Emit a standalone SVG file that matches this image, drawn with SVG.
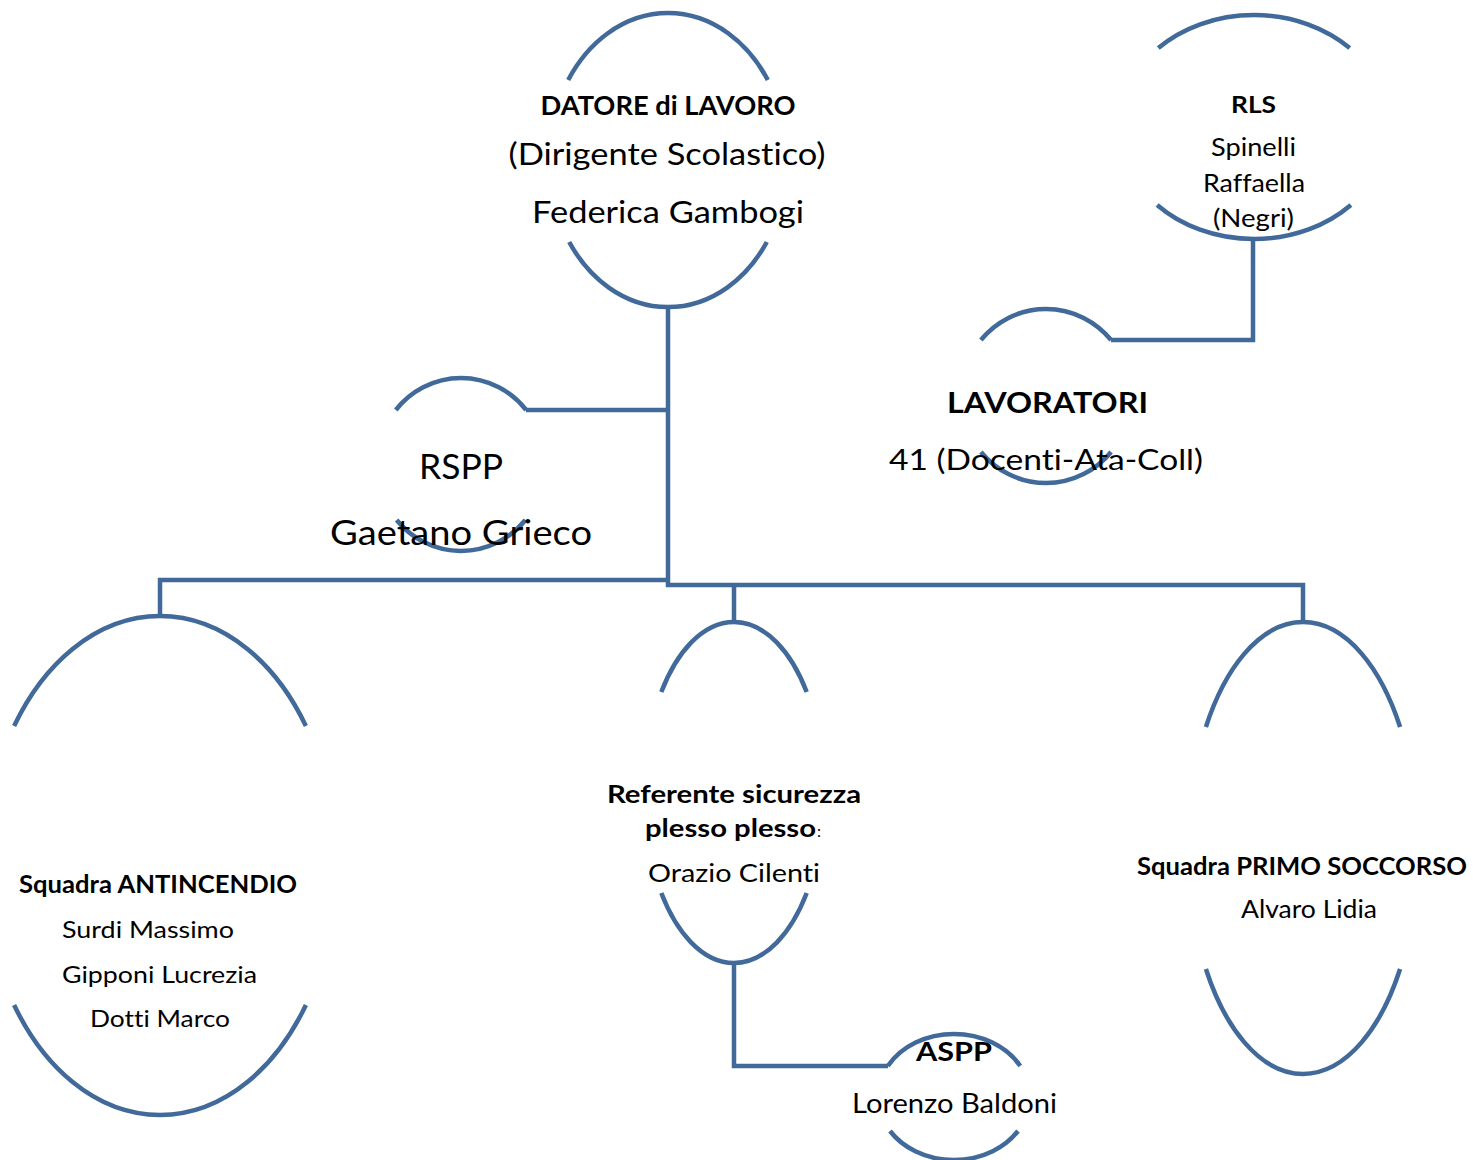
<svg xmlns="http://www.w3.org/2000/svg" width="1473" height="1160" viewBox="0 0 1473 1160">
<style>
.arc{fill:none;stroke:#41699A;stroke-width:4.5;stroke-linecap:butt}
.conn{fill:none;stroke:#41699A;stroke-width:4.5;stroke-linejoin:miter;stroke-linecap:butt}
text{font-family:Lato,"Open Sans","Liberation Sans",sans-serif;fill:#000;font-variant-ligatures:none;font-feature-settings:"liga" 0,"clig" 0}
.b{font-weight:bold}
.m{text-anchor:middle}
</style>
<rect width="1473" height="1160" fill="#fff"/>
<g id="connectors">
<path class="conn" d="M668 307 V587"/>
<path class="conn" d="M526 410 H668"/>
<path class="conn" d="M668 580 H160 V616"/>
<path class="conn" d="M666 585 H1303 V622"/>
<path class="conn" d="M734 585 V622"/>
<path class="conn" d="M1111 340 H1253 V239"/>
<path class="conn" d="M734 963 V1066 H888"/>
</g>
<g id="datore">
<path class="arc" d="M568.2 80 A119 147 0 0 1 767.8 80"/>
<path class="arc" d="M569.2 242 A119 147 0 0 0 766.8 242"/>
<text class="b m" x="668" y="115" font-size="26" textLength="255" lengthAdjust="spacingAndGlyphs">DATORE di LAVORO</text>
<text class="m" x="667" y="165" font-size="31" textLength="317" lengthAdjust="spacingAndGlyphs">(Dirigente Scolastico)</text>
<text class="m" x="668" y="223" font-size="31" textLength="272" lengthAdjust="spacingAndGlyphs">Federica Gambogi</text>
</g>
<g id="rls">
<path class="arc" d="M1158.3 48 A135 112 0 0 1 1349.7 48"/>
<path class="arc" d="M1157.1 205 A135 112 0 0 0 1350.9 205"/>
<text class="b m" x="1253.5" y="113" font-size="23" textLength="45" lengthAdjust="spacingAndGlyphs">RLS</text>
<text class="m" x="1253.5" y="156" font-size="24.5" textLength="85" lengthAdjust="spacingAndGlyphs">Spinelli</text>
<text class="m" x="1254" y="192" font-size="24.5" textLength="102" lengthAdjust="spacingAndGlyphs">Raffaella</text>
<text class="m" x="1253.5" y="227" font-size="24.5" textLength="81" lengthAdjust="spacingAndGlyphs">(Negri)</text>
</g>
<g id="lavoratori">
<path class="arc" d="M980.9 340 A85 87 0 0 1 1111.1 340"/>
<path class="arc" d="M980.9 452 A85 87 0 0 0 1111.1 452"/>
<text class="b m" x="1047.5" y="413" font-size="29" textLength="201" lengthAdjust="spacingAndGlyphs">LAVORATORI</text>
<text class="m" x="1046" y="470" font-size="29" textLength="314" lengthAdjust="spacingAndGlyphs">41 (Docenti-Ata-Coll)</text>
</g>
<g id="rspp">
<path class="arc" d="M395.8 410 A84 86.5 0 0 1 526.2 410"/>
<path class="arc" d="M396.6 520 A84 86.5 0 0 0 525.4 520"/>
<text class="m" x="461" y="479" font-size="35" textLength="84" lengthAdjust="spacingAndGlyphs">RSPP</text>
<text class="m" x="461" y="545" font-size="35" textLength="262" lengthAdjust="spacingAndGlyphs">Gaetano Grieco</text>
</g>
<g id="antincendio">
<path class="arc" d="M14.1 726 A176 249.5 0 0 1 305.9 726"/>
<path class="arc" d="M14.1 1005 A176 249.5 0 0 0 305.9 1005"/>
<text class="b" x="19" y="893" font-size="24" textLength="278" lengthAdjust="spacingAndGlyphs">Squadra ANTINCENDIO</text>
<text x="62" y="938" font-size="24" textLength="172" lengthAdjust="spacingAndGlyphs">Surdi Massimo</text>
<text x="62" y="983" font-size="24" textLength="195" lengthAdjust="spacingAndGlyphs">Gipponi Lucrezia</text>
<text x="90" y="1027" font-size="24" textLength="140" lengthAdjust="spacingAndGlyphs">Dotti Marco</text>
</g>
<g id="referente">
<path class="arc" d="M661.3 692 A90 170.5 0 0 1 806.7 692"/>
<path class="arc" d="M661.3 893 A90 170.5 0 0 0 806.7 893"/>
<text class="b m" x="734" y="803" font-size="25" textLength="254" lengthAdjust="spacingAndGlyphs">Referente sicurezza</text>
<text class="b" x="645" y="837" font-size="25" textLength="171" lengthAdjust="spacingAndGlyphs">plesso plesso</text>
<text x="817" y="837" font-size="16">:</text>
<text class="m" x="734" y="882" font-size="24.5" textLength="172" lengthAdjust="spacingAndGlyphs">Orazio Cilenti</text>
</g>
<g id="primo-soccorso">
<path class="arc" d="M1205.9 727 A115 226 0 0 1 1400.1 727"/>
<path class="arc" d="M1205.9 969 A115 226 0 0 0 1400.1 969"/>
<text class="b" x="1137" y="875" font-size="24" textLength="330" lengthAdjust="spacingAndGlyphs">Squadra PRIMO SOCCORSO</text>
<text x="1241" y="918" font-size="24.5" textLength="136" lengthAdjust="spacingAndGlyphs">Alvaro Lidia</text>
</g>
<g id="aspp">
<path class="arc" d="M887.8 1066 A76 63 0 0 1 1020.2 1066"/>
<path class="arc" d="M890 1131 A76 63 0 0 0 1018 1131"/>
<text class="b m" x="954" y="1061" font-size="27" textLength="76" lengthAdjust="spacingAndGlyphs">ASPP</text>
<text class="m" x="954.5" y="1113" font-size="27" textLength="205" lengthAdjust="spacingAndGlyphs">Lorenzo Baldoni</text>
</g>
</svg>
